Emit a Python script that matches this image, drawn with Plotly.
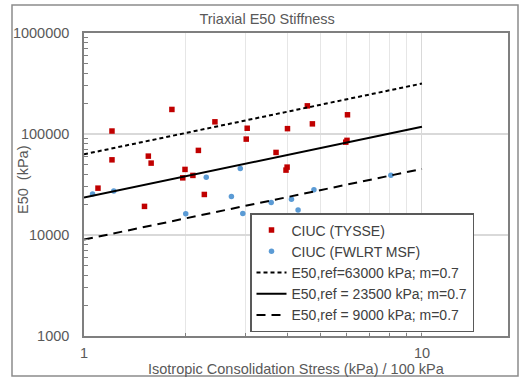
import plotly.graph_objects as go
import math

# --- data ---
tysse_x = [1.82, 2.44, 4.58, 4.74, 6.02, 3.04, 4.00, 1.21, 1.21, 1.55, 1.58, 2.18,
           3.02, 3.70, 1.99, 1.96, 2.10, 1.10, 2.27, 1.51, 3.96, 3.99, 5.95, 6.00]
tysse_y = [175000, 132000, 190000, 126000, 155000, 114000, 113000, 107000, 55500, 60400,
           51500, 68800, 89000, 65700, 44600, 36800, 38900, 29100, 25200, 19200,
           43900, 47000, 83000, 86500]

fwlrt_x = [1.06, 1.225, 2.30, 2.90, 2.73, 2.00, 2.95, 3.58, 4.11, 4.30, 4.79, 8.09]
fwlrt_y = [25400, 27200, 37400, 45600, 24000, 16200, 16300, 21000, 22600, 17700, 28000, 39100]

line_x = [1, 10]
line_hi = [63000, 316000]
line_mid = [23500, 118000]
line_lo = [9000, 45100]

names = ["CIUC (TYSSE)", "CIUC (FWLRT MSF)",
         "E50,ref=63000 kPa; m=0.7",
         "E50,ref = 23500 kPa; m=0.7",
         "E50,ref = 9000 kPa; m=0.7"]

x_tickvals = [1, 10]
y_tickvals = [1000, 10000, 100000, 1000000]

FONT = "Liberation Sans, Arial, sans-serif"
GRAY = "#595959"

L, R, T, B = 84, 508, 33, 336
W, H = 528, 378
pw, ph = R - L, B - T


def px(xp):
    return (xp - L) / pw


def py(yp):
    return (B - yp) / ph


fig = go.Figure()
fig.add_trace(go.Scatter(x=tysse_x, y=tysse_y, mode="markers", name=names[0],
                         marker=dict(symbol="square", size=5.5, color="#C00000")))
fig.add_trace(go.Scatter(x=fwlrt_x, y=fwlrt_y, mode="markers", name=names[1],
                         marker=dict(symbol="circle", size=5.5, color="#5B9BD5")))
fig.add_trace(go.Scatter(x=line_x, y=line_hi, mode="lines", name=names[2],
                         line=dict(color="black", width=2, dash="4px,3px")))
fig.add_trace(go.Scatter(x=line_x, y=line_mid, mode="lines", name=names[3],
                         line=dict(color="black", width=2)))
fig.add_trace(go.Scatter(x=line_x, y=line_lo, mode="lines", name=names[4],
                         line=dict(color="black", width=2, dash="9px,6px")))

minor_x = [2, 3, 4, 5, 6, 7, 8, 9, 10]
minor_y = [m * d for d in (1000, 10000, 100000) for m in range(2, 10)]

fig.update_layout(
    width=W, height=H,
    margin=dict(l=L, r=W - R, t=T, b=H - B, autoexpand=False),
    paper_bgcolor="white", plot_bgcolor="white",
    font=dict(family=FONT, size=14.5, color=GRAY),
    title=dict(text="Triaxial E50 Stiffness", x=0.506, xref="container", xanchor="center",
               y=1 - 19 / H, yref="container", yanchor="middle",
               font=dict(size=14.5, color=GRAY)),
    xaxis=dict(type="log", range=[0, math.log10(17.97)], automargin=False,
               tickmode="array", tickvals=x_tickvals, ticktext=["1", "10"],
               showgrid=True, gridcolor="#d9d9d9", gridwidth=1,
               ticks="", ticklabelstandoff=3,
               showline=True, linecolor="#7f7f7f", linewidth=1.5, mirror=True,
               zeroline=False,
               minor=dict(tickmode="array", tickvals=minor_x, showgrid=True,
                          gridcolor="#e6e6e6", gridwidth=1, ticks="inside",
                          ticklen=3, tickcolor="#7f7f7f")),
    yaxis=dict(type="log", range=[3, 6], automargin=False,
               tickmode="array", tickvals=y_tickvals,
               ticktext=["1000", "10000", "100000", "1000000"],
               showgrid=True, gridcolor="#d9d9d9", gridwidth=1.5,
               ticks="", ticklabelstandoff=10,
               showline=True, linecolor="#7f7f7f", linewidth=1.5, mirror=True,
               zeroline=False,
               minor=dict(tickmode="array", tickvals=minor_y, showgrid=False,
                          ticks="inside", ticklen=4, tickcolor="#7f7f7f")),
    showlegend=True,
    legend=dict(x=px(250), xanchor="left",
                y=py(332), yanchor="bottom",
                bgcolor="white", bordercolor="#595959", borderwidth=1.5,
                font=dict(family=FONT, size=14, color="#404040"),
                tracegroupgap=0, itemwidth=30),
    annotations=[
        dict(text="E50  (kPa)", textangle=-90, xref="paper", yref="paper",
             x=px(23), y=py(180), xanchor="center", yanchor="middle", showarrow=False,
             font=dict(size=14.5, color=GRAY)),
        dict(text="Isotropic Consolidation Stress (kPa) / 100 kPa", xref="paper",
             yref="paper", x=px(296), y=py(369), xanchor="center", yanchor="middle",
             showarrow=False, font=dict(size=14.5, color=GRAY)),
    ],
    shapes=[dict(type="rect", xref="paper", yref="paper",
                 x0=px(12), x1=px(518), y0=py(376), y1=py(5),
                 line=dict(color="#8c8c8c", width=1.5), layer="below")],
)

fig.write_html("out.html",
               config={"displayModeBar": False},
               post_script="document.body.style.margin='0';"
                           "document.body.style.overflow='hidden';")
